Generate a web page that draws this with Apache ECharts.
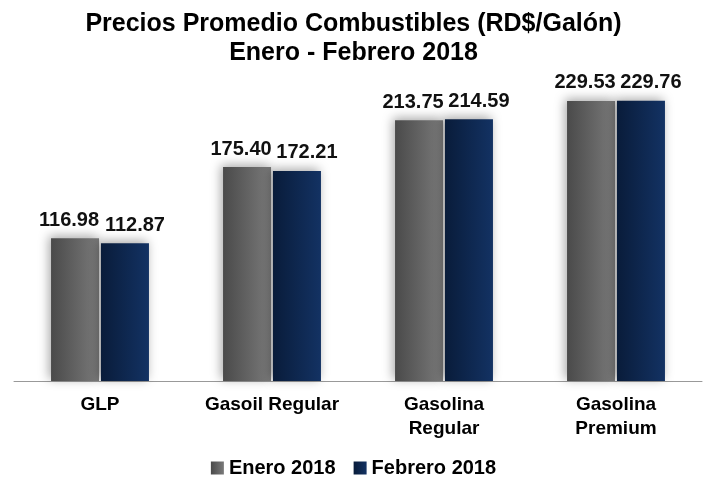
<!DOCTYPE html>
<html>
<head>
<meta charset="utf-8">
<script src="https://cdn.jsdelivr.net/npm/echarts@6/dist/echarts.min.js"></script>
<style>
  html, body { margin: 0; padding: 0; background: #fff; }
  #chart { width: 707px; height: 479px; }
</style>
</head>
<body>
<div id="chart"></div>
<script>
// 数据
const categories = ['GLP', 'Gasoil Regular', 'Gasolina\nRegular', 'Gasolina\nPremium']
const enero2018 = [116.98, 175.40, 213.75, 229.53]
const febrero2018 = [112.87, 172.21, 214.59, 229.76]

const chart = echarts.init(document.getElementById('chart'))

const font = 'Liberation Sans, Arial, sans-serif'

const grey = new echarts.graphic.LinearGradient(0, 0, 1, 0, [
  { offset: 0, color: '#4a4a4a' },
  { offset: 1, color: '#7a7a7a' }
])
const navy = new echarts.graphic.LinearGradient(0, 0, 1, 0, [
  { offset: 0, color: '#091c3a' },
  { offset: 1, color: '#133263' }
])

const makeLabel = offsetX => ({
  show: true,
  position: 'top',
  distance: 8,
  offset: [offsetX, 0],
  formatter: p => p.value.toFixed(2),
  color: '#111',
  fontFamily: font,
  fontWeight: 'bold',
  fontSize: 20
})

const option = {
  title: {
    text: 'Precios Promedio Combustibles (RD$/Galón)\nEnero - Febrero 2018',
    left: 'center',
    top: 5,
    textStyle: {
      fontFamily: font,
      fontWeight: 'bold',
      fontSize: 25,
      lineHeight: 29,
      color: '#000'
    }
  },
  legend: {
    bottom: -4,
    left: 'center',
    icon: 'rect',
    itemWidth: 13,
    itemHeight: 13,
    itemGap: 18,
    textStyle: {
      fontFamily: font,
      fontWeight: 'bold',
      fontSize: 20,
      color: '#000'
    },
    data: ['Enero 2018', 'Febrero 2018']
  },
  grid: {
    left: 14,
    right: 5,
    top: 76,
    bottom: 98
  },
  xAxis: {
    type: 'category',
    data: categories,
    axisLine: { lineStyle: { color: '#999', width: 1 } },
    axisTick: { show: false },
    axisLabel: {
      interval: 0,
      margin: 12,
      color: '#000',
      fontFamily: font,
      fontWeight: 'bold',
      fontSize: 19,
      lineHeight: 24
    }
  },
  yAxis: {
    type: 'value',
    min: 0,
    max: 250,
    show: false,
    splitLine: { show: false }
  },
  series: [
    {
      name: 'Enero 2018',
      type: 'bar',
      data: enero2018,
      barWidth: 48,
      barGap: '4%',
      itemStyle: {
        color: grey,
        shadowBlur: 10,
        shadowColor: 'rgba(0,0,0,0.35)',
        shadowOffsetX: -2,
        shadowOffsetY: -2
      },
      label: makeLabel(-6)
    },
    {
      name: 'Febrero 2018',
      type: 'bar',
      data: febrero2018,
      barWidth: 48,
      barGap: '4%',
      itemStyle: {
        color: navy,
        shadowBlur: 10,
        shadowColor: 'rgba(0,0,0,0.35)',
        shadowOffsetX: -2,
        shadowOffsetY: -2
      },
      label: makeLabel(10)
    }
  ]
}

chart.setOption(option)
</script>
</body>
</html>
